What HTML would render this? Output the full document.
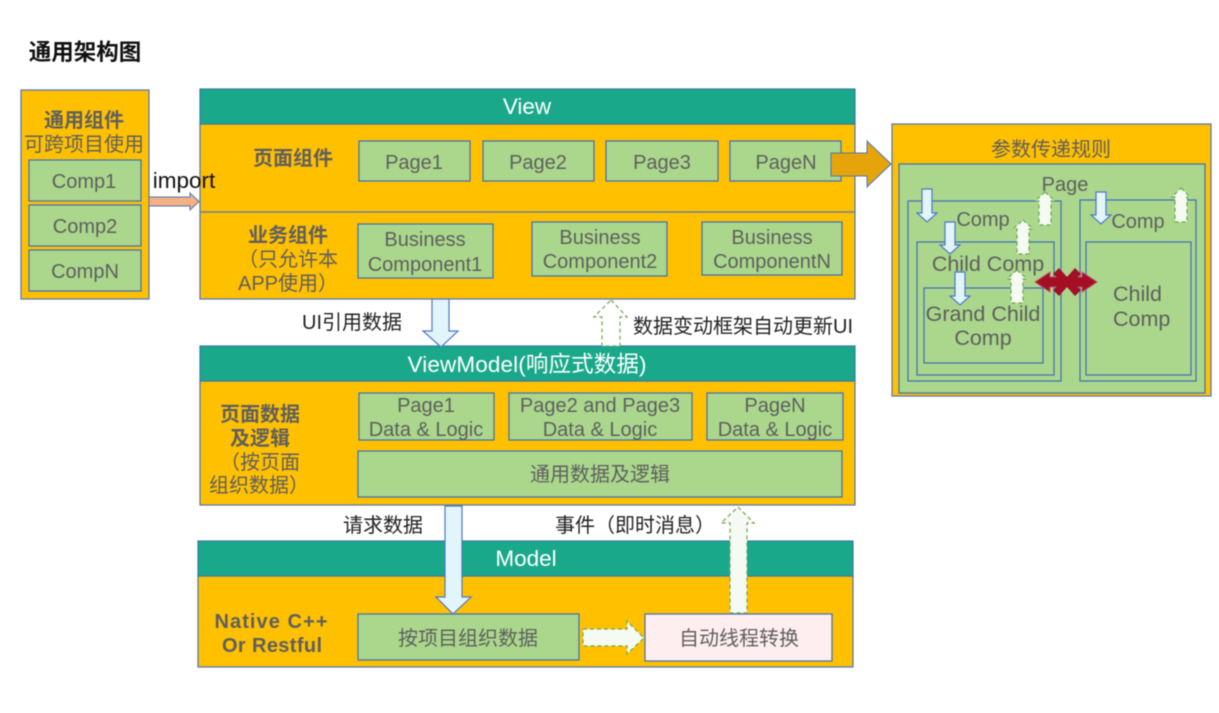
<!DOCTYPE html>
<html><head><meta charset="utf-8"><style>
html,body{margin:0;padding:0;background:#fff}
svg{display:block;filter:blur(0.4px)}
text{font-family:"Liberation Sans","Noto Sans CJK SC",sans-serif;font-size:20px;fill:#5f5f5f;text-anchor:middle}
.o{fill:#ffc000;stroke:#4f74b8;stroke-width:1.2}
.h{fill:#1aa88b;stroke:#3a78a8;stroke-width:1.2}
.g{fill:#aad78c;stroke:#3f6db5;stroke-width:1.2}
.w{fill:#fff;font-size:22.5px}
.b{font-weight:bold}
.k{fill:#222}
.c{font-size:21.5px}
.d{fill:#e2f5fb;stroke:#4f78c4;stroke-width:1.2}
.u{fill:#f5faf3;stroke:#6fa64f;stroke-width:1.2;stroke-dasharray:4 3}
</style></head><body>
<svg width="1219" height="713" viewBox="0 0 1219 713" xmlns="http://www.w3.org/2000/svg">
<rect width="1219" height="713" fill="#fff"/>
<text x="85" y="60" class="b" style="font-size:22.5px;fill:#111">通用架构图</text>

<!-- left panel -->
<rect class="o" x="21" y="90" width="128" height="209"/>
<text x="84" y="127" class="b">通用组件</text>
<text x="84" y="151">可跨项目使用</text>
<rect class="g" x="29" y="160" width="112" height="41"/>
<rect class="g" x="29" y="205" width="112" height="41"/>
<rect class="g" x="29" y="250" width="112" height="41"/>
<text x="84" y="188">Comp1</text>
<text x="85" y="233">Comp2</text>
<text x="85" y="278">CompN</text>

<!-- import arrow -->
<polygon points="149,197 190,197 190,193 199,201.5 190,210 190,206 149,206" fill="#f4b183" stroke="#4f74b8" stroke-width="1"/>

<!-- View -->
<rect class="o" x="200" y="124" width="655" height="175"/>
<rect class="h" x="200" y="89" width="655" height="35"/>
<line x1="200" y1="212" x2="855" y2="212" stroke="#4f74b8" stroke-width="1.2"/>
<text x="527" y="114" class="w">View</text>
<text x="293" y="165" class="b">页面组件</text>
<text x="184" y="188" style="font-size:22.5px;fill:#111">import</text>
<rect class="g" x="359" y="141" width="111" height="40"/>
<rect class="g" x="483" y="141" width="111" height="40"/>
<rect class="g" x="606" y="141" width="112" height="40"/>
<rect class="g" x="730" y="141" width="111" height="40"/>
<text x="414" y="169">Page1</text>
<text x="538" y="169">Page2</text>
<text x="662" y="169">Page3</text>
<text x="786" y="169">PageN</text>
<text x="288" y="242" class="b">业务组件</text>
<text x="288" y="266">（只允许本</text>
<text x="288" y="290">APP使用）</text>
<rect class="g" x="358" y="224" width="135" height="54"/>
<rect class="g" x="532" y="222" width="135" height="54"/>
<rect class="g" x="702" y="222" width="140" height="53"/>
<text x="425" y="246">Business</text><text x="425" y="271">Component1</text>
<text x="600" y="244">Business</text><text x="600" y="268">Component2</text>
<text x="772" y="244">Business</text><text x="772" y="268">ComponentN</text>

<!-- big orange arrow -->
<polygon points="831,153 867,153 867,141 891,164 867,187 867,176 831,176" fill="#e5a50a" stroke="#4f74b8" stroke-width="1"/>

<!-- right panel -->
<rect class="o" x="892" y="124" width="319" height="272"/>
<text x="1051" y="156">参数传递规则</text>
<rect class="g" x="899" y="164" width="306" height="229"/>
<text x="1065" y="191">Page</text>
<rect class="g" x="908" y="201" width="153" height="180"/>
<rect class="g" x="917" y="242" width="137" height="133"/>
<rect class="g" x="924" y="288" width="119" height="75"/>
<rect class="g" x="1080" y="200" width="116" height="181"/>
<rect class="g" x="1086" y="242" width="105" height="133"/>
<text x="983" y="226">Comp</text>
<text x="1138" y="228">Comp</text>
<text x="988" y="271" class="c">Child Comp</text>
<text x="983" y="321" class="c">Grand Child</text>
<text x="983" y="345" class="c">Comp</text>
<text x="1113" y="301" class="c" style="text-anchor:start">Child</text>
<text x="1113" y="326" class="c" style="text-anchor:start">Comp</text>
<polygon class="d" points="922,189 932,189 932,213 937,213 927,222 917,213 922,213"/>
<polygon class="d" points="945,222 955,222 955,245 960,245 950,254 940,245 945,245"/>
<polygon class="d" points="955,272 965,272 965,296 970,296 960,305 950,296 955,296"/>
<polygon class="d" points="1096,192 1106,192 1106,215 1111,215 1101,224 1091,215 1096,215"/>
<polygon class="u" points="1045,192 1055,201 1051,201 1051,225 1039,225 1039,201 1035,201"/>
<polygon class="u" points="1023,220 1033,229 1029,229 1029,254 1017,254 1017,229 1013,229"/>
<polygon class="u" points="1017,270 1027,279 1023,279 1023,303 1011,303 1011,279 1007,279"/>
<polygon class="u" points="1181,188 1190,197 1187,197 1187,222 1175,222 1175,197 1172,197"/>
<polygon points="1035,282 1050,272 1050,277 1082,277 1082,272 1097,282 1082,292 1082,287 1050,287 1050,292" fill="#a50f25" stroke="#c0506a" stroke-width="1"/>
<polygon points="1059,268 1067,277 1075,268 1081,274 1072,282 1081,290 1075,296 1067,287 1059,296 1053,290 1062,282 1053,274" fill="#a50f25"/>

<!-- connector labels -->
<text x="352" y="329" class="k">UI引用数据</text>
<text x="743" y="333" class="k">数据变动框架自动更新UI</text>
<text x="383" y="532" class="k">请求数据</text>
<text x="635" y="532" class="k">事件（即时消息）</text>

<!-- ViewModel -->
<rect class="o" x="200" y="381" width="655" height="124"/>
<rect class="h" x="200" y="346" width="655" height="35"/>
<text x="527" y="372" class="w" textLength="239">ViewModel(响应式数据)</text>
<polygon class="d" points="432,299 449,299 449,331 458,331 441,347 423,331 432,331"/>
<polygon class="u" points="611,300 627,317 620,317 620,346 602,346 602,317 594,317" style="fill:#fff"/>
<text x="260" y="421" class="b">页面数据</text>
<text x="260" y="445" class="b">及逻辑</text>
<text x="260" y="469">（按页面</text>
<text x="259" y="492">组织数据）</text>
<rect class="g" x="359" y="393" width="135" height="47"/>
<rect class="g" x="509" y="393" width="183" height="47"/>
<rect class="g" x="707" y="393" width="136" height="47"/>
<rect class="g" x="358" y="451" width="484" height="46"/>
<text x="426" y="412">Page1</text><text x="426" y="436">Data &amp; Logic</text>
<text x="600" y="412">Page2 and Page3</text><text x="600" y="436">Data &amp; Logic</text>
<text x="775" y="412">PageN</text><text x="775" y="436">Data &amp; Logic</text>
<text x="600" y="481">通用数据及逻辑</text>

<!-- Model -->
<rect class="o" x="198" y="576" width="655" height="91"/>
<rect class="h" x="198" y="541" width="655" height="35"/>
<text x="526" y="566" class="w">Model</text>
<text x="271" y="628" class="b" textLength="113">Native C++</text>
<text x="272" y="652" class="b" textLength="100">Or Restful</text>
<rect class="g" x="358" y="614" width="221" height="46"/>
<rect x="645" y="614" width="187" height="47" fill="#feeef0" stroke="#3f6db5" stroke-width="1.2"/>
<text x="468" y="645">按项目组织数据</text>
<text x="739" y="645">自动线程转换</text>
<polygon class="d" points="445,506 462,506 462,597 471,597 453,614 436,597 445,597"/>
<polygon class="u" points="738,507 754,523 747,523 747,613 730,613 730,523 721,523"/>
<polygon class="u" points="583,629 627,629 627,621 644,638 627,654 627,646 583,646"/>
</svg>
</body></html>
